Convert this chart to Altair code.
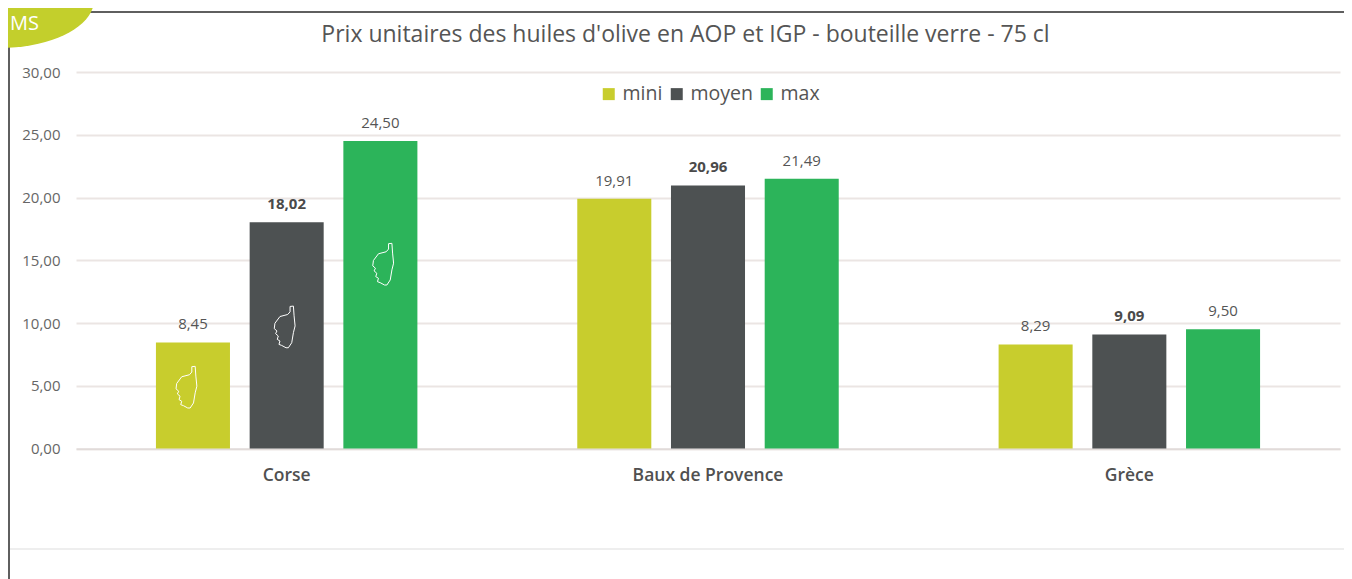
import altair as alt
import pandas as pd

regions = ["Corse", "Baux de Provence", "Grèce"]
series = ["mini", "moyen", "max"]
mini = [8.45, 19.91, 8.29]
moyen = [18.02, 20.96, 9.09]
maxi = [24.50, 21.49, 9.50]
colors = ["#c8cd2d", "#4d5152", "#2cb45a"]
title_text = "Prix unitaires des huiles d'olive en AOP et IGP - bouteille verre - 75 cl"
y_ticks = [0, 5, 10, 15, 20, 25, 30]
icon_values = [4.9, 9.7, 14.7]
icon_shift = [-6.5, -2, 2.8]

rows = []
for r, a, b, c in zip(regions, mini, moyen, maxi):
    for s, v in zip(series, (a, b, c)):
        rows.append({"region": r, "serie": s, "valeur": v,
                     "label": f"{v:.2f}".replace(".", ",")})
df = pd.DataFrame(rows)

W, H = 1264, 376.5
LEFT, TOP = 68, 64

x = alt.X("region:N", sort=regions, title=None,
          scale=alt.Scale(paddingInner=0, paddingOuter=0),
          axis=alt.Axis(labelAngle=0, labelFont="Open Sans", labelFontSize=17.5, labelFontWeight=600,
                        labelColor="#505050", labelPadding=18, ticks=False, domain=True,
                        domainColor="#d8d2d0", domainWidth=1, grid=False))
xo = alt.XOffset("serie:N", sort=series,
                 scale=alt.Scale(paddingInner=0.21, paddingOuter=0.853))
y = alt.Y("valeur:Q", title=None,
          scale=alt.Scale(domain=[0, 30], nice=False),
          axis=alt.Axis(values=y_ticks, labelExpr="replace(format(datum.value,'.2f'),'.',',')",
                        labelFont="Open Sans", labelFontSize=15, labelColor="#666666", labelPadding=16,
                        ticks=False, domain=False, gridColor="#ebe5e3", gridWidth=2))
col = alt.Color("serie:N", sort=series, title=None,
                scale=alt.Scale(domain=series, range=colors),
                legend=alt.Legend(orient="none", legendX=523, legendY=12, direction="horizontal",
                                  columns=3, symbolType="square", symbolSize=144, symbolStrokeWidth=0,
                                  labelFont="Open Sans", labelFontSize=19.5, labelColor="#555555",
                                  labelOffset=4, columnPadding=4))

bars = alt.Chart(df).mark_bar(clip=False).encode(x=x, xOffset=xo, y=y, color=col)

labels = alt.Chart(df).transform_filter("datum.serie !== 'moyen'").mark_text(
    font="Open Sans", fontSize=15, color="#555555", dy=-18).encode(
    x=x, xOffset=xo, y="valeur:Q", text="label:N")
labels_bold = alt.Chart(df).transform_filter("datum.serie === 'moyen'").mark_text(
    font="Open Sans", fontSize=15, fontWeight="bold", color="#4a4a4a", dy=-18).encode(
    x=x, xOffset=xo, y="valeur:Q", text="label:N")

# Silhouette de la Corse, normalisée sur [-1, 1]
corsica_zoom = [(155, 412), (165, 411), (167, 440), (170, 470), (165, 490), (160, 520), (150, 535),
                (143, 535), (130, 528), (122, 525), (125, 515), (117, 510), (120, 500), (112, 493),
                (116, 485), (108, 478), (110, 462), (125, 442), (148, 436), (155, 428)]
ICON_SIZE = 1764
icon_scale = ICON_SIZE ** 0.5 / 2


def corsica_path(shift):
    pts = [f"{(px_ - 139) / 62.5 + shift / icon_scale:.3f},{(py_ - 472.5) / 62.5:.3f}" for px_, py_ in corsica_zoom]
    return "M" + " L".join(pts) + " Z"


icons = []
for s, v, d in zip(series, icon_values, icon_shift):
    icons.append(
        alt.Chart(pd.DataFrame({"region": ["Corse"], "serie": [s], "valeur": [v]}))
        .mark_point(shape=corsica_path(d), size=ICON_SIZE, filled=False, stroke="white", strokeWidth=1, opacity=1)
        .encode(x=x, xOffset=xo, y="valeur:Q")
    )

one = pd.DataFrame({"k": [0]})
px = lambda page: page - LEFT - 8
py = lambda page: page - TOP - 8
top_rule = alt.Chart(one).mark_rule(color="#5f5f5f", strokeWidth=2).encode(
    x=alt.value(px(88)), x2=alt.value(px(1352)), y=alt.value(py(12)))
left_rule = alt.Chart(one).mark_rule(color="#5f5f5f", strokeWidth=2).encode(
    x=alt.value(px(9)), y=alt.value(py(40)), y2=alt.value(py(579)))
bottom_rule = alt.Chart(one).mark_rule(color="#dddddd", strokeWidth=1).encode(
    x=alt.value(px(10)), x2=alt.value(px(1352)), y=alt.value(py(549)))
badge = alt.Chart(one).mark_point(
    shape="M-1,0 A1,0.51 0 1 1 1,0 A1,0.51 0 1 1 -1,0 Z", size=35344, filled=True,
    fill="#c3cf2c", strokeWidth=0, opacity=1).encode(x=alt.value(px(0)), y=alt.value(py(0)))
badge_text = alt.Chart(one).mark_text(text="MS", font="Open Sans", fontSize=20, color="white",
                                      align="right", baseline="alphabetic").encode(
    x=alt.value(px(39)), y=alt.value(py(30)))
title_mark = alt.Chart(one).mark_text(text=title_text, font="Open Sans", fontSize=23, color="#555555",
                                      align="center", baseline="middle").encode(
    x=alt.value(px(685.5)), y=alt.value(py(34.5)))

chart = alt.layer(bars, labels, labels_bold, *icons, top_rule, left_rule, bottom_rule, badge, badge_text,
                  title_mark).properties(
    width=W, height=H,
    autosize=alt.AutoSizeParams(type="none"),
    padding={"left": LEFT, "top": TOP, "right": 4, "bottom": 130},
    background="white",
).configure_view(stroke=None)

chart.save("out.html", embed_options={"renderer": "svg", "actions": False})
